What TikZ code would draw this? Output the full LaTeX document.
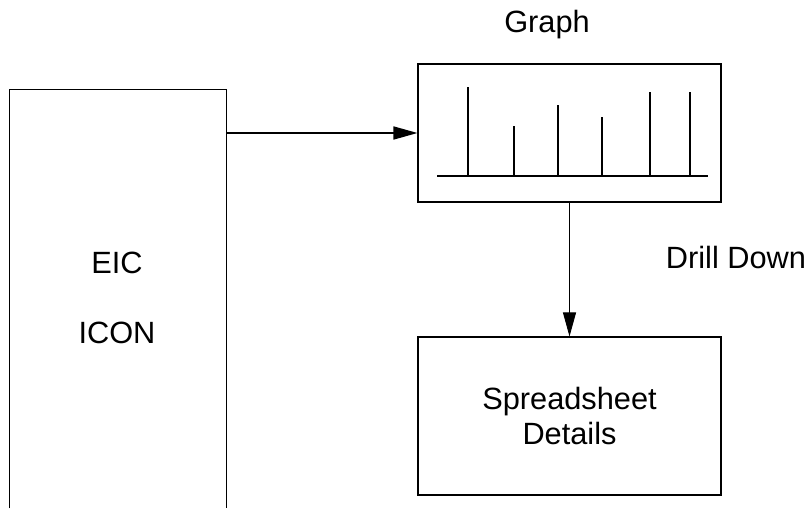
\documentclass[tikz,border=0pt]{standalone}
\usepackage{fontspec}
\setmainfont{Liberation Sans}
\usepackage{tikz}
\usetikzlibrary{positioning, arrows.meta}

\begin{document}
\begin{tikzpicture}[
        box/.style={rectangle, draw, line width=0.6pt, inner sep=0pt},
        lbl/.style={font=\fontsize{17.5}{20}\selectfont, align=center},
        bar/.style={line width=1.5pt},
        link/.style={-{Triangle[length=0.48cm, width=0.26cm]}},
    ]
    \useasboundingbox (0, 0) rectangle (16.14, -10.16);

    % Left column (open at the bottom)
    \node[inner sep=0pt, minimum width=4.32cm, minimum height=8.36cm] (eic) at (2.36, -5.98) {};
    \draw[line width=0.6pt] (eic.south west) |- (eic.north east) -- (eic.south east);
    \node[lbl] (eictxt) at (2.34, -5.26) {EIC};
    \node[lbl] (icontxt) at (2.34, -6.66) {ICON};

    % Graph box
    \node[box, minimum width=6.06cm, minimum height=2.76cm] (graph) at (11.39, -2.66) {};
    \node[lbl] (graphtxt) at (10.94, -0.5) {Graph};

    % Bars
    \coordinate (axisl) at (8.74, -3.52);
    \coordinate (axisr) at (14.16, -3.52);
    \draw[line width=1pt] (axisl) -- (axisr);
    \foreach \x/\h in {9.36/-1.74, 10.28/-2.52, 11.16/-2.10, 12.04/-2.34, 13.0/-1.84, 13.8/-1.84} {
        \draw[bar] (\x, -3.52) -- (\x, \h);
    }

    % Spreadsheet box
    \node[box, lbl, minimum width=6.06cm, minimum height=3.16cm] (sheet) at (11.39, -8.32) {Spreadsheet\\Details};
    \node[lbl] (drill) at (14.72, -5.16) {Drill Down};

    % Connectors
    \draw[link, line width=0.9pt] (eic.east |- graph.west) -- (graph.west);
    \draw[link, line width=0.5pt] (graph.south) -- (sheet.north);

\end{tikzpicture}
\end{document}
